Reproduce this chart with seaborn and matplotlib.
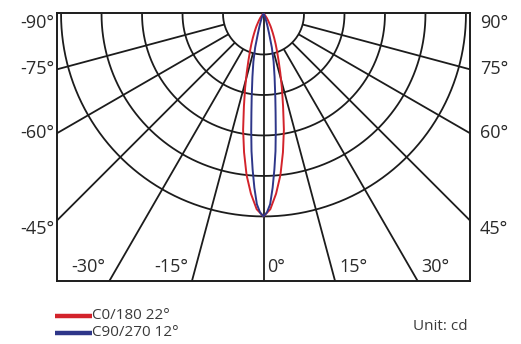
import numpy as np
import pandas as pd
import matplotlib
matplotlib.use("Agg")
import matplotlib.pyplot as plt
from matplotlib.lines import Line2D
import seaborn as sns

# Luminous intensity distribution (relative, peak = 100), symmetric about 0°
gamma_c0 = [0, 2, 4, 6, 8, 10, 12, 14, 16, 18, 20, 22, 24, 26, 28, 30,
            35, 40, 50, 60, 90]
intensity_c0 = [100, 96.5, 89, 80, 69, 58, 46.5, 37.5, 30, 24, 19.5, 16,
                13, 10.5, 8.5, 7, 4, 2.5, 1, 0.5, 0]
gamma_c90 = [0, 1, 2, 3, 4, 5, 6, 7, 8, 9, 10, 12, 14, 16, 18, 20, 25, 30,
             40, 60, 90]
intensity_c90 = [100, 98, 94, 86, 77, 68, 58, 49, 42, 36, 31.5, 24, 17, 10,
                 6.5, 4.5, 2, 1, 0.5, 0.2, 0]

series_names = ["C0/180 22°", "C90/270 12°"]
series_colors = ["#d3232b", "#2e3689"]

grid_radii = [20, 40, 60, 80, 100]
radial_angles = [-75, -60, -45, -30, -15, 0, 15, 30, 45, 60, 75]
side_labels = [-90, -75, -60, -45]
bottom_labels = [-30, -15, 0, 15, 30]
unit_text = "Unit: cd"


def to_xy(gamma_deg, r):
    g = np.radians(gamma_deg)
    return r * np.sin(g), -r * np.cos(g)


def mirrored(gammas, values):
    g = np.asarray(gammas, float)
    v = np.asarray(values, float)
    return (np.concatenate([-g[::-1][:-1], g]),
            np.concatenate([v[::-1][:-1], v]))


rows = []
for name, gs, vs in [(series_names[0], gamma_c0, intensity_c0),
                     (series_names[1], gamma_c90, intensity_c90)]:
    g, v = mirrored(gs, vs)
    x, y = to_xy(g, v)
    for i, (xi, yi) in enumerate(zip(x, y)):
        rows.append({"series": name, "order": i, "x": xi, "y": yi})
df = pd.DataFrame(rows)

sns.set_style("white")
plt.rcParams["font.family"] = ["Open Sans", "DejaVu Sans"]

W, H = 521, 344
fig = plt.figure(figsize=(W / 100, H / 100), dpi=100)
ax = fig.add_axes([57 / W, (H - 281) / H, 413 / W, 268 / H])
XMIN, XMAX, YMIN, YMAX = -102, 102, -131.9, 0.5
ax.set_xlim(XMIN, XMAX)
ax.set_ylim(YMIN, YMAX)

grid_kw = dict(color="#1c1c1c", lw=1.3, zorder=1, solid_capstyle="butt")
th = np.linspace(-90, 90, 361)
for r in grid_radii:
    x, y = to_xy(th, r)
    ax.plot(x, y, **grid_kw)
for a in radial_angles:
    r0 = 0 if a == 0 else grid_radii[0]
    x, y = to_xy(np.array([a, a]), np.array([r0, 300]))
    ax.plot(x, y, **grid_kw)

sns.lineplot(data=df, x="x", y="y", hue="series", units="series",
             estimator=None, sort=False, palette=series_colors,
             hue_order=series_names, lw=1.4, legend=False, ax=ax, zorder=3)

ax.set_xticks([])
ax.set_yticks([])
ax.set_xlabel("")
ax.set_ylabel("")
for s in ax.spines.values():
    s.set_visible(True)
    s.set_color("#1c1c1c")
    s.set_linewidth(1.4)

txt_kw = dict(fontsize=13, color="#2a2a2a", textcoords="offset points",
              annotation_clip=False)
px = 72 / 100
vas = {-90: "top", -75: "center", -60: "center", -45: "top"}
for a in side_labels:
    g = np.radians(abs(a))
    yend = -XMAX / np.tan(g) if a != -90 else 0.0
    ax.annotate(f"{a}°", xy=(XMIN, yend), xytext=(-3 * px, 0),
                ha="right", va=vas[a], **txt_kw)
    ax.annotate(f"{abs(a)}°", xy=(XMAX, yend), xytext=(10 * px, 0),
                ha="left", va=vas[a], **txt_kw)
for a in bottom_labels:
    xb = -YMIN * np.tan(np.radians(a))
    if a < 0:
        ax.annotate(f"{a}°", xy=(xb, YMIN), xytext=(-4 * px, 14 * px),
                    ha="right", va="center", **txt_kw)
    else:
        ax.annotate(f"{a}°", xy=(xb, YMIN), xytext=(4 * px, 14 * px),
                    ha="left", va="center", **txt_kw)

# legend below the diagram
for i, (name, col) in enumerate(zip(series_names, series_colors)):
    yl = 1 - (315.5 + 17.5 * i) / H
    fig.add_artist(Line2D([55 / W, 92 / W], [yl, yl], color=col, lw=3.2,
                          solid_capstyle="butt"))
    fig.text(92 / W, yl, name, ha="left", va="center", fontsize=11,
             color="#3a3a3a")
fig.text(468 / W, 1 - 327 / H, unit_text, ha="right", va="center",
         fontsize=11, color="#3a3a3a")

fig.savefig("out.png", dpi=100)
